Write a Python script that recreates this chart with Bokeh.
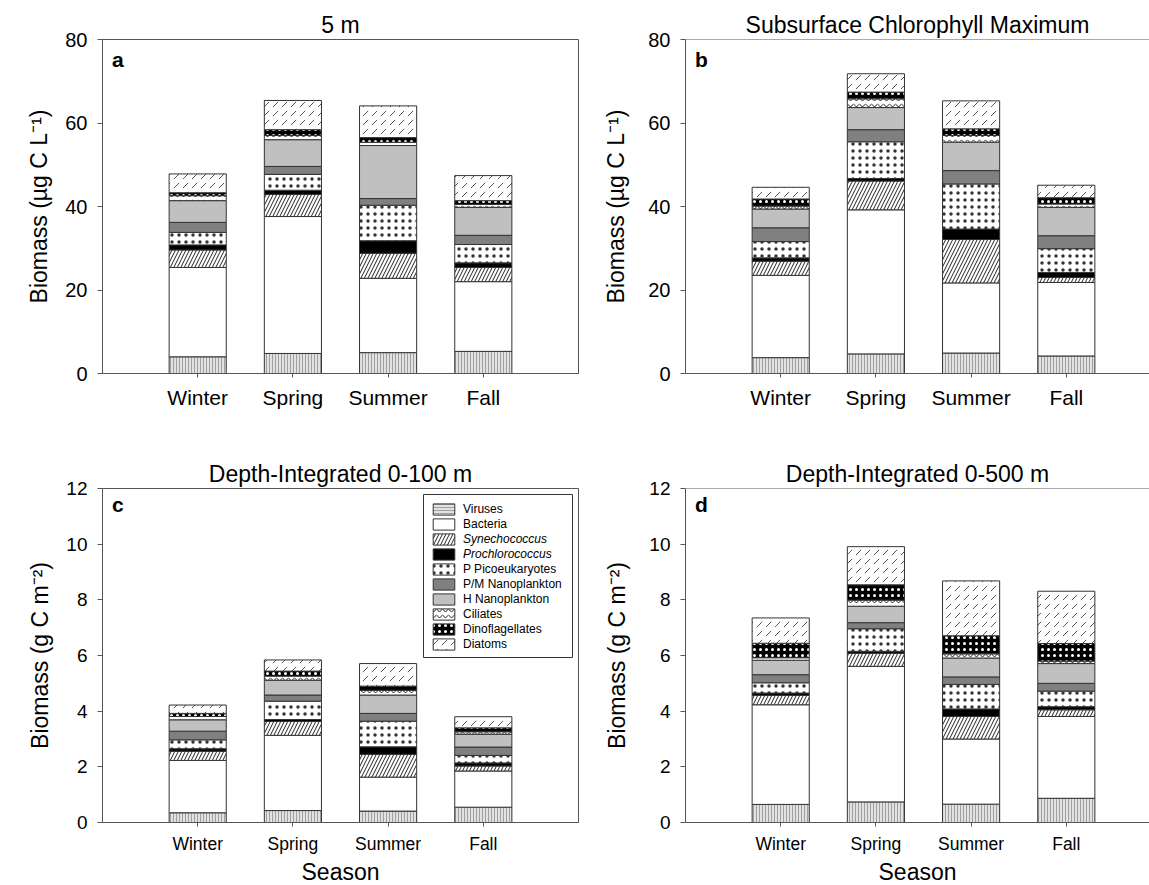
from bokeh.plotting import figure
from bokeh.layouts import column, row
from bokeh.models import (ColumnDataSource, FixedTicker, Legend, LegendItem,
                          Label, Span, Range1d, BoxAnnotation, Title)
from bokeh.embed import file_html
from bokeh.resources import INLINE

seasons = ["Winter", "Spring", "Summer", "Fall"]
groups = ["Viruses", "Bacteria", "Synechococcus", "Prochlorococcus",
          "P Picoeukaryotes", "P/M Nanoplankton", "H Nanoplankton",
          "Ciliates", "Dinoflagellates", "Diatoms"]
keys = ["viruses", "bacteria", "syn", "pro", "pico", "pmnano", "hnano",
        "ciliates", "dino", "diatoms"]

# ---- panel a: 5 m (ug C L-1), thickness of each stacked layer per season
a_viruses = [4.0, 4.8, 5.0, 5.3]
a_bacteria = [21.4, 32.8, 17.8, 16.7]
a_syn = [4.2, 5.3, 6.0, 3.4]
a_pro = [1.2, 1.0, 3.0, 1.1]
a_pico = [3.0, 3.8, 8.5, 4.4]
a_pmnano = [2.4, 1.9, 1.6, 2.2]
a_hnano = [5.2, 6.4, 12.7, 6.7]
a_ciliates = [1.2, 1.0, 0.8, 0.7]
a_dino = [0.7, 1.4, 1.1, 0.9]
a_diatoms = [4.5, 7.0, 7.6, 6.0]

# ---- panel b: subsurface chlorophyll maximum (ug C L-1)
b_viruses = [3.8, 4.7, 4.9, 4.2]
b_bacteria = [19.7, 34.5, 16.8, 17.6]
b_syn = [3.4, 6.9, 10.4, 1.2]
b_pro = [0.8, 0.6, 2.5, 1.2]
b_pico = [3.9, 8.8, 10.8, 5.7]
b_pmnano = [3.3, 2.9, 3.2, 3.1]
b_hnano = [4.5, 5.3, 6.8, 6.8]
b_ciliates = [0.7, 2.1, 1.6, 0.8]
b_dino = [1.7, 1.6, 1.6, 1.5]
b_diatoms = [2.8, 4.4, 6.7, 3.0]

# ---- panel c: depth-integrated 0-100 m (g C m-2)
c_viruses = [0.35, 0.43, 0.41, 0.55]
c_bacteria = [1.88, 2.70, 1.22, 1.30]
c_syn = [0.33, 0.50, 0.82, 0.18]
c_pro = [0.09, 0.07, 0.27, 0.11]
c_pico = [0.32, 0.66, 0.92, 0.27]
c_pmnano = [0.31, 0.22, 0.28, 0.30]
c_hnano = [0.41, 0.53, 0.66, 0.46]
c_ciliates = [0.12, 0.15, 0.17, 0.09]
c_dino = [0.11, 0.18, 0.15, 0.14]
c_diatoms = [0.30, 0.40, 0.81, 0.40]

# ---- panel d: depth-integrated 0-500 m (g C m-2)
d_viruses = [0.65, 0.74, 0.66, 0.87]
d_bacteria = [3.58, 4.87, 2.34, 2.94]
d_syn = [0.34, 0.47, 0.81, 0.24]
d_pro = [0.08, 0.07, 0.27, 0.11]
d_pico = [0.37, 0.81, 0.88, 0.56]
d_pmnano = [0.29, 0.22, 0.27, 0.28]
d_hnano = [0.52, 0.59, 0.68, 0.71]
d_ciliates = [0.09, 0.22, 0.15, 0.09]
d_dino = [0.52, 0.55, 0.65, 0.63]
d_diatoms = [0.91, 1.37, 1.97, 1.88]

a_layers = [a_viruses, a_bacteria, a_syn, a_pro, a_pico, a_pmnano, a_hnano, a_ciliates, a_dino, a_diatoms]
b_layers = [b_viruses, b_bacteria, b_syn, b_pro, b_pico, b_pmnano, b_hnano, b_ciliates, b_dino, b_diatoms]
c_layers = [c_viruses, c_bacteria, c_syn, c_pro, c_pico, c_pmnano, c_hnano, c_ciliates, c_dino, c_diatoms]
d_layers = [d_viruses, d_bacteria, d_syn, d_pro, d_pico, d_pmnano, d_hnano, d_ciliates, d_dino, d_diatoms]

# ---- styles
FONT = "Liberation Sans"
AX = "#555555"
fills = ["#e2e2e2", "white", "white", "black", "white", "#808080", "#c0c0c0", "white", "black", "white"]
hatches = ["vertical_line", "blank", "right_diagonal_line", "blank", "dot", "blank", "blank",
           "horizontal_wave", "dot", "right_diagonal_dash"]
hcolors = ["#a0a0a0", "black", "#222222", "black", "#333333", "black", "black", "#222222", "white", "#555555"]
hscales = [3, 12, 7, 12, 7, 12, 12, 6, 6, 9]
hweights = [1, 1, 1, 1, 1.0, 1, 1, 1, 1.5, 1]


def make_panel(layers, fig_w, fig_h, top_b, bot_b, right_b, x_end, y_end, y_step,
               title, title_offset, letter, letter_y, xtick_size, ytick_size,
               ylabel, ylabel_standoff, full_box, xtick_standoff):
    p = figure(width=fig_w, height=fig_h, output_backend="svg", toolbar_location=None,
               x_range=Range1d(0, x_end), y_range=Range1d(0, y_end),
               min_border_left=102, min_border_right=right_b,
               min_border_top=top_b, min_border_bottom=bot_b,
               background_fill_color="white", border_fill_color="white")
    data = dict(x=[1, 2, 3, 4])
    for k, vals in zip(keys, layers):
        data[k] = vals
    src = ColumnDataSource(data)
    rends = p.vbar_stack(keys, x="x", width=0.6, source=src,
                         fill_color=fills, hatch_pattern=hatches, hatch_color=hcolors,
                         hatch_scale=hscales, hatch_weight=hweights,
                         line_color="#333333", line_width=1)
    p.xgrid.visible = False
    p.ygrid.visible = False
    if full_box:
        p.outline_line_color = AX
        p.outline_line_width = 1
    else:
        p.outline_line_color = None
        p.add_layout(Span(location=y_end, dimension="width", line_color=AX, line_width=1))
    p.title.text = title
    p.title.align = "center"
    p.title.offset = title_offset
    p.title.text_font = FONT
    p.title.text_font_size = "23px"
    p.title.text_font_style = "normal"
    p.title.text_color = "black"
    p.title.standoff = 3
    xa = p.xaxis[0]
    xa.ticker = FixedTicker(ticks=[1, 2, 3, 4])
    xa.major_label_overrides = {1: seasons[0], 2: seasons[1], 3: seasons[2], 4: seasons[3]}
    xa.major_label_text_font = FONT
    xa.major_label_text_font_size = xtick_size
    xa.major_label_text_color = "black"
    xa.major_tick_out = 4
    xa.major_tick_in = 0
    xa.minor_tick_line_color = None
    xa.axis_line_color = AX
    xa.major_tick_line_color = AX
    xa.major_label_standoff = xtick_standoff
    ya = p.yaxis[0]
    ya.ticker = FixedTicker(ticks=list(range(0, int(y_end) + 1, y_step)))
    ya.major_label_text_font = FONT
    ya.major_label_text_font_size = ytick_size
    ya.major_label_text_color = "black"
    ya.major_tick_out = 5
    ya.major_tick_in = 0
    ya.minor_tick_line_color = None
    ya.axis_line_color = AX
    ya.major_tick_line_color = AX
    ya.major_label_standoff = 10
    ya.axis_label = ylabel
    ya.axis_label_text_font = FONT
    ya.axis_label_text_font_size = "23px"
    ya.axis_label_text_font_style = "normal"
    ya.axis_label_text_color = "black"
    ya.axis_label_standoff = ylabel_standoff
    p.add_layout(Label(x=0.1, y=letter_y, text=letter, text_font=FONT,
                       text_font_size="21px", text_font_style="bold", text_color="black",
                       text_baseline="alphabetic", text_align="left"))
    return p, rends


XR = (1149 - 685) / 95.2

pa, ra = make_panel(a_layers, 583, 430, 39, 57, 5, 5, 80, 20, "5 m", 0, "a", 75.3,
                    "21px", "20px", "Biomass (µg C L⁻¹)", 10, True, 8)
pb, rb = make_panel(b_layers, 566, 430, 39, 57, 0, XR, 80, 20, "Subsurface Chlorophyll Maximum", 6, "b", 75.3,
                    "21px", "20px", "Biomass (µg C L⁻¹)", 16, False, 8)
pc, rc = make_panel(c_layers, 583, 455, 58, 63, 5, 5, 12, 2, "Depth-Integrated 0-100 m", 0, "c", 11.42,
                    "17.5px", "19px", "Biomass (g C m⁻²)", 10, True, 7)
pd, rd = make_panel(d_layers, 566, 455, 58, 63, 0, XR, 12, 2, "Depth-Integrated 0-500 m", 6, "d", 11.42,
                    "17.5px", "19px", "Biomass (g C m⁻²)", 16, False, 7)

# x axis title "Season" for the lower panels (placed as a title below the axis)
for p, off in ((pc, 8), (pd, -14)):
    p.add_layout(Title(text="Season", align="center", offset=off, text_font=FONT,
                       text_font_size="23px", text_font_style="normal",
                       text_color="black", standoff=0), "below")

# ---- legend in panel c
# legend swatch for viruses uses horizontal lines (hidden proxy renderer)
vir_proxy = pc.vbar(x=[1, 2, 3, 4], top=c_viruses, width=0.6, fill_color=fills[0],
                    hatch_pattern="horizontal_line", hatch_color=hcolors[0], hatch_scale=3,
                    hatch_weight=1, line_color="#333333", line_width=1, visible=False)
leg_renderers = [vir_proxy] + list(rc[1:])

pc.add_layout(BoxAnnotation(left=321, right=470, bottom=165, top=328,
                            left_units="screen", right_units="screen",
                            bottom_units="screen", top_units="screen",
                            fill_color="white", fill_alpha=1,
                            line_color="#333333", line_width=1, line_alpha=1))

common = dict(margin=0, padding=0, spacing=1, glyph_width=27,
              glyph_height=14, label_height=14, label_standoff=6,
              label_text_font=FONT, label_text_font_size="12px", label_text_color="black",
              border_line_color=None, background_fill_alpha=0)


def items(idx):
    return [LegendItem(label=groups[i], renderers=[leg_renderers[i]]) for i in idx]


leg1 = Legend(items=items([0, 1]), location=(328, 291), **common)
leg2 = Legend(items=items([2, 3]), location=(328, 261), label_text_font_style="italic", **common)
leg3 = Legend(items=items([4, 5, 6, 7, 8, 9]), location=(328, 171), **common)
pc.add_layout(leg1)
pc.add_layout(leg2)
pc.add_layout(leg3)

layout = column(row(pa, pb), row(pc, pd))
open("out.html", "w").write(file_html(layout, INLINE))
